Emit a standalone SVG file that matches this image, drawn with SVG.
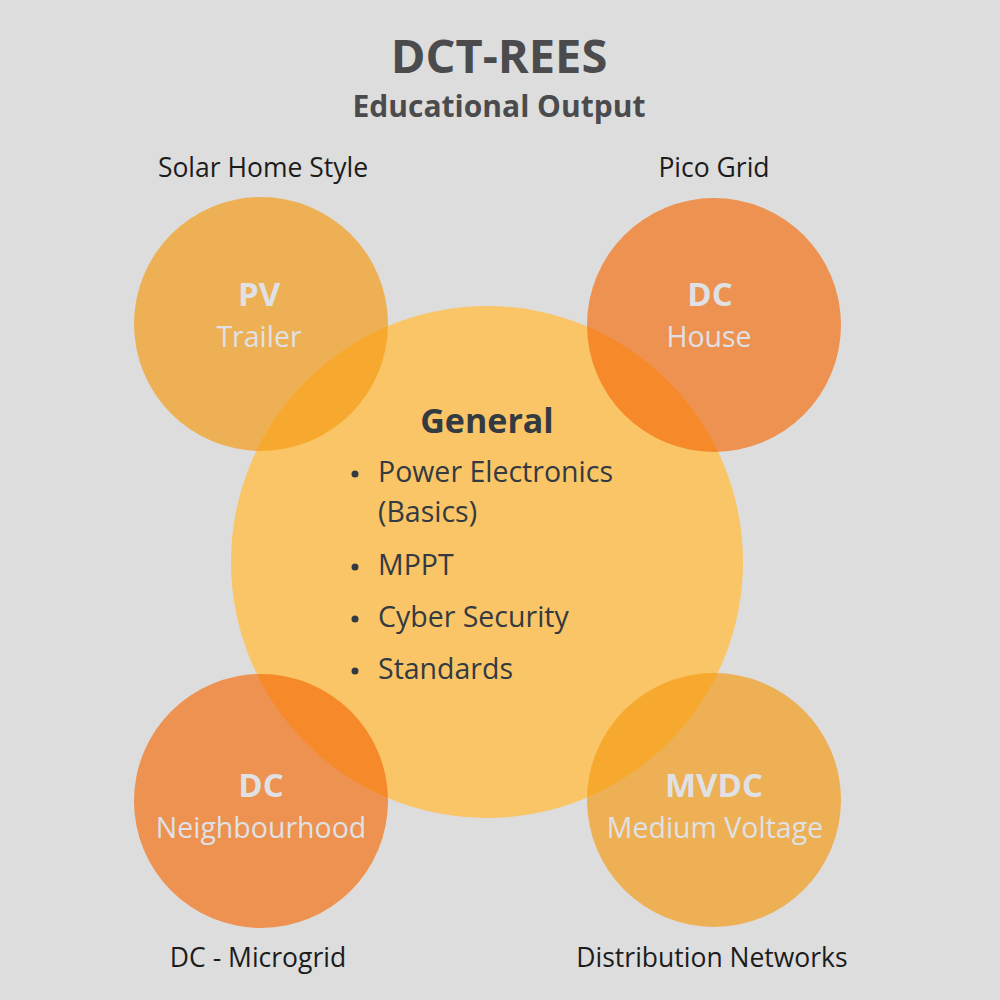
<svg xmlns="http://www.w3.org/2000/svg" width="1000" height="1000" viewBox="0 0 1000 1000">
<style>
text{font-family:"Open Sans","Liberation Sans",sans-serif}
.title{font-weight:700;fill:#4b4b4e;text-anchor:middle}
.lbl{font-size:26.5px;fill:#1c1c1c;text-anchor:middle}
.ch{font-size:33px;font-weight:700;fill:#dfe1e5;text-anchor:middle}
.cs{font-size:28.5px;fill:#dfe1e5;text-anchor:middle}
.gt{font-size:28.5px;fill:#343a42}
.gh{font-size:34px;font-weight:700;fill:#343a42;text-anchor:middle}
.yel{fill:#f69b15;fill-opacity:0.68}
.org{fill:#f46e0e;fill-opacity:0.68}
.bul{fill:#343a42}
</style>
<rect width="1000" height="1000" fill="#dddddd"/>
<text class="title" x="499" y="73" font-size="47">DCT-REES</text>
<text class="title" x="499" y="117" font-size="30">Educational Output</text>
<g id="general">
<circle cx="487" cy="562" r="256" fill="#f9c566"/>
</g>
<g id="pv">
<circle class="yel" cx="261" cy="324" r="127"/>
<text class="ch" x="259" y="306">PV</text>
<text class="cs" x="259" y="347">Trailer</text>
<text class="lbl" x="263" y="177">Solar Home Style</text>
</g>
<g id="dc-house">
<circle class="org" cx="714" cy="325" r="127"/>
<text class="ch" x="710" y="306">DC</text>
<text class="cs" x="709" y="347">House</text>
<text class="lbl" x="714" y="177">Pico Grid</text>
</g>
<g id="dc-neighbourhood">
<circle class="org" cx="261" cy="801" r="127"/>
<text class="ch" x="261" y="797">DC</text>
<text class="cs" x="261" y="838">Neighbourhood</text>
<text class="lbl" x="258" y="967">DC - Microgrid</text>
</g>
<g id="mvdc">
<circle class="yel" cx="714" cy="800" r="127"/>
<text class="ch" x="714" y="797">MVDC</text>
<text class="cs" x="715" y="838">Medium Voltage</text>
<text class="lbl" x="712" y="967">Distribution Networks</text>
</g>
<g id="general-text">
<text class="gh" x="487" y="433">General</text>
<circle class="bul" cx="355" cy="474" r="3.5"/>
<text class="gt" x="378" y="482">Power Electronics</text>
<text class="gt" x="378" y="522">(Basics)</text>
<circle class="bul" cx="355" cy="567" r="3.5"/>
<text class="gt" x="378" y="575">MPPT</text>
<circle class="bul" cx="355" cy="619" r="3.5"/>
<text class="gt" x="378" y="627">Cyber Security</text>
<circle class="bul" cx="355" cy="671" r="3.5"/>
<text class="gt" x="378" y="679">Standards</text>
</g>
<g id="connectors"/>
</svg>
